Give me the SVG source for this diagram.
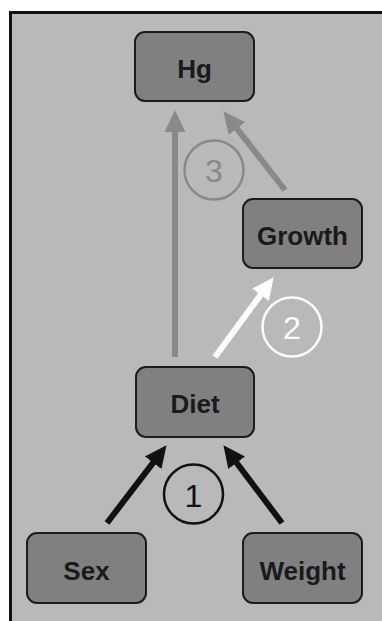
<svg xmlns="http://www.w3.org/2000/svg" width="382" height="621" viewBox="0 0 382 621">
  <style>
    .node rect { fill: #808080; stroke: #1c1c1c; stroke-width: 2; }
    .node text { font-family: "Liberation Sans", Arial, sans-serif; font-weight: bold; font-size: 26px; fill: #1a1a1a; text-anchor: middle; }
    .edge { stroke-width: 6; fill: none; stroke-linecap: butt; }
    .step circle { fill: none; stroke-width: 2.5; }
    .step text { font-family: "Liberation Sans", Arial, sans-serif; font-size: 32px; text-anchor: middle; }
  </style>
  <defs>
    <marker id="ah-black" markerUnits="userSpaceOnUse" markerWidth="24" markerHeight="24" viewBox="0 -11 23 22" refX="1" refY="0" orient="auto">
      <path d="M0,-10 L21,0 L0,10 z" fill="#111111"/>
    </marker>
    <marker id="ah-grey" markerUnits="userSpaceOnUse" markerWidth="24" markerHeight="24" viewBox="0 -11 23 22" refX="1" refY="0" orient="auto">
      <path d="M0,-10 L21,0 L0,10 z" fill="#898989"/>
    </marker>
    <marker id="ah-white" markerUnits="userSpaceOnUse" markerWidth="24" markerHeight="24" viewBox="0 -11 23 22" refX="1" refY="0" orient="auto">
      <path d="M0,-10 L21,0 L0,10 z" fill="#ffffff"/>
    </marker>
  </defs>

  <!-- panel -->
  <rect x="0" y="0" width="382" height="621" fill="#ffffff"/>
  <rect x="10.5" y="12.5" width="400" height="700" fill="#b8b9b8" stroke="#111111" stroke-width="3"/>

  <!-- connectors -->
  <g id="connectors">
    <line class="edge" x1="175" y1="357" x2="175" y2="131" stroke="#898989" marker-end="url(#ah-grey)"/>
    <line class="edge" x1="285" y1="190" x2="236.3" y2="127.8" stroke="#898989" marker-end="url(#ah-grey)"/>
    <line class="edge" x1="215" y1="357" x2="261.2" y2="294.1" stroke="#ffffff" marker-end="url(#ah-white)"/>
    <line class="edge" x1="107" y1="523" x2="153.8" y2="461.9" stroke="#111111" marker-end="url(#ah-black)"/>
    <line class="edge" x1="282" y1="523" x2="236" y2="462" stroke="#111111" marker-end="url(#ah-black)"/>
  </g>

  <!-- step labels -->
  <g id="step1" class="step">
    <circle cx="193.5" cy="494" r="29.5" stroke="#111111"/>
    <text x="193.5" y="507" fill="#111111">1</text>
  </g>
  <g id="step2" class="step">
    <circle cx="292" cy="327" r="29.5" stroke="#ffffff"/>
    <text x="292" y="339" fill="#ffffff">2</text>
  </g>
  <g id="step3" class="step">
    <circle cx="214" cy="170" r="29.5" stroke="#898989"/>
    <text x="214" y="182" fill="#898989">3</text>
  </g>

  <!-- nodes -->
  <g id="hg" class="node">
    <rect x="135" y="32" width="119" height="69" rx="10"/>
    <text x="194.5" y="78">Hg</text>
  </g>
  <g id="growth" class="node">
    <rect x="243" y="199" width="119" height="69" rx="10"/>
    <text x="302.5" y="245">Growth</text>
  </g>
  <g id="diet" class="node">
    <rect x="136" y="367" width="118" height="70" rx="10"/>
    <text x="195" y="413">Diet</text>
  </g>
  <g id="sex" class="node">
    <rect x="27" y="533" width="119" height="70" rx="10"/>
    <text x="86.5" y="580">Sex</text>
  </g>
  <g id="weight" class="node">
    <rect x="243" y="533" width="119" height="70" rx="10"/>
    <text x="302.5" y="580">Weight</text>
  </g>
</svg>
